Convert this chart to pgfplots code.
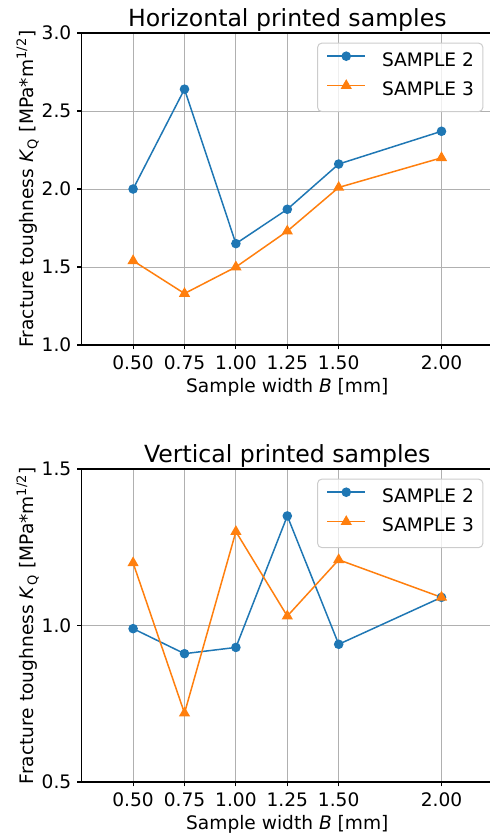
\documentclass[border=0pt]{standalone}
\usepackage{fontspec}
\setmainfont{DejaVu Sans}
\usepackage{pgfplots}
\pgfplotsset{compat=1.18}

\definecolor{sTwo}{HTML}{1F77B4}
\definecolor{sThree}{HTML}{FF7F0E}
\definecolor{gridgray}{HTML}{B0B0B0}
\definecolor{legedge}{HTML}{CCCCCC}

\newcommand{\tickfont}{\fontsize{9.3}{11}\selectfont}

\pgfplotsset{
  kqaxis/.style={
    scale only axis,
    width=205.6pt,
    xmin=0.25, xmax=2.25,
    xtick={0.5,0.75,1,1.25,1.5,2},
    /pgf/number format/assume math mode=true,
    xticklabel style={/pgf/number format/fixed, /pgf/number format/fixed zerofill,
      /pgf/number format/precision=2, anchor=north, inner sep=0pt},
    yticklabel style={/pgf/number format/fixed, /pgf/number format/fixed zerofill,
      /pgf/number format/precision=1, anchor=east, inner sep=0pt},
    xticklabel shift=2.8pt, yticklabel shift=2.8pt,
    tick label style={font=\tickfont},
    label style={font=\tickfont},
    axis x line*=box, axis y line*=left,
    axis line style={line width=0.55pt, -},
    tick align=outside, xtick pos=lower, ytick pos=left,
    major tick length=2.2pt,
    tick style={black, line width=0.55pt},
    grid=major,
    major grid style={gridgray, line width=0.5pt},
    every axis title/.style={at={(axis description cs:0.5,1)}, anchor=base,
      yshift=3.5pt, font=\fontsize{11.8}{14}\selectfont},
    xlabel style={at={([yshift=-23.5pt]axis description cs:0.5,0)}, anchor=base},
    ylabel style={at={([xshift=-24pt]axis description cs:0,0.5)}, anchor=base},
    xlabel={Sample width \textit{B} [mm]},
    ylabel={Fracture toughness \textit{K}\textsubscript{Q} [MPa*m\textsuperscript{1/2}]},
    legend cell align=left,
    legend style={at={([xshift=-4.8pt,yshift=-4.85pt]axis description cs:1,1)},
      anchor=north east, draw=legedge, line width=0.5pt, rounded corners=2pt,
      fill=white, fill opacity=0.8, draw opacity=1, text opacity=1,
      inner xsep=4.4pt, inner ysep=4.5pt, row sep=3.8pt, column sep=8pt,
      font=\tickfont,
      nodes={inner sep=0pt, text height=6.78pt, text depth=3.3pt}},
    legend image code/.code={
      \draw[mark repeat=2, mark phase=2, fill opacity=1, #1]
        plot coordinates {(0pt,3.39pt) (9.5pt,3.39pt) (19pt,3.39pt)};},
  },
  s2/.style={sTwo, line width=0.75pt, mark=*, mark size=2pt,
    mark options={fill=sTwo, draw=sTwo, solid}},
  s3/.style={sThree, line width=0.75pt, mark=triangle*, mark size=2.5pt,
    mark options={fill=sThree, draw=sThree, solid}},
}

\begin{document}
\begin{tikzpicture}

\begin{axis}[kqaxis,
  at={(40.85pt,-16.5pt)}, anchor=north west,
  height=156pt,
  ymin=1.0, ymax=3.0, ytick={1.0,1.5,2.0,2.5,3.0},
  title={Horizontal printed samples},
]
\addplot[s2] coordinates {
  (0.50,2.00) (0.75,2.64) (1.00,1.65) (1.25,1.87) (1.50,2.16) (2.00,2.37)
};
\addlegendentry{SAMPLE 2}
\addplot[s3] coordinates {
  (0.50,1.54) (0.75,1.33) (1.00,1.50) (1.25,1.73) (1.50,2.01) (2.00,2.20)
};
\addlegendentry{SAMPLE 3}
\end{axis}

\begin{axis}[kqaxis,
  at={(40.85pt,-234.5pt)}, anchor=north west,
  height=156.5pt,
  ymin=0.5, ymax=1.5, ytick={0.5,1.0,1.5},
  title={Vertical printed samples},
]
\addplot[s2] coordinates {
  (0.50,0.99) (0.75,0.91) (1.00,0.93) (1.25,1.35) (1.50,0.94) (2.00,1.09)
};
\addlegendentry{SAMPLE 2}
\addplot[s3] coordinates {
  (0.50,1.20) (0.75,0.72) (1.00,1.30) (1.25,1.03) (1.50,1.21) (2.00,1.09)
};
\addlegendentry{SAMPLE 3}
\end{axis}

\pgfresetboundingbox
\path[use as bounding box] (0,0) rectangle (245pt,-418pt);
\end{tikzpicture}
\end{document}
